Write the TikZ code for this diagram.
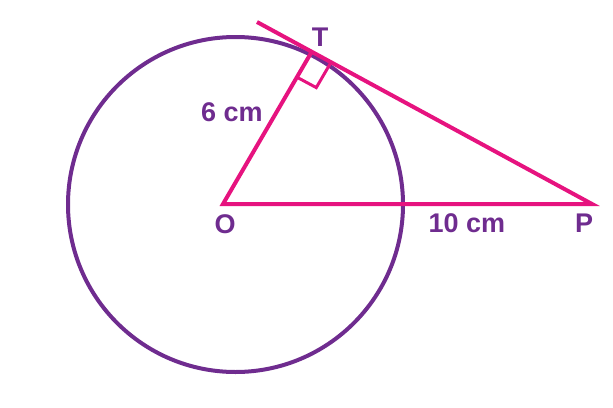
\documentclass[tikz,border=0pt]{standalone}
\usepackage{fontspec}
\setmainfont{Liberation Sans}
\usetikzlibrary{calc}
\definecolor{circpurple}{HTML}{6F2C8F}
\definecolor{linepink}{HTML}{E6137F}
\begin{document}
\begin{tikzpicture}[x=1pt, y=-1pt, line width=4pt,
	lbl/.style={text=circpurple, font=\fontsize{27}{29}\selectfont\bfseries, inner sep=0pt},
	seg/.style={draw=linepink}]
	\useasboundingbox (0,0) rectangle (613,407);
	\draw[circpurple] (235.5,204.5) circle (167.5);
	\coordinate (O) at (223,204);
	\coordinate (T) at (311,53);
	\coordinate (P) at (592,204);
	\coordinate (E) at (257,22);
	\draw[seg] (E) -- (P) -- (O) -- (T);
	% right angle at T
	\coordinate (A) at ($(T)!28pt!(O)$);
	\coordinate (B) at ($(T)!22pt!(P)$);
	\draw[seg, line width=3pt] (A) -- ($(A)+(B)-(T)$) -- (B);
	\node[lbl] (Tl) at (320,37) {T};
	\node[lbl] (Ol) at (225,224) {O};
	\node[lbl] (Pl) at (584,223) {P};
	\node[lbl] (OTl) at (232,112) {6 cm};
	\node[lbl] (OPl) at (467,223) {10 cm};
\end{tikzpicture}
\end{document}
